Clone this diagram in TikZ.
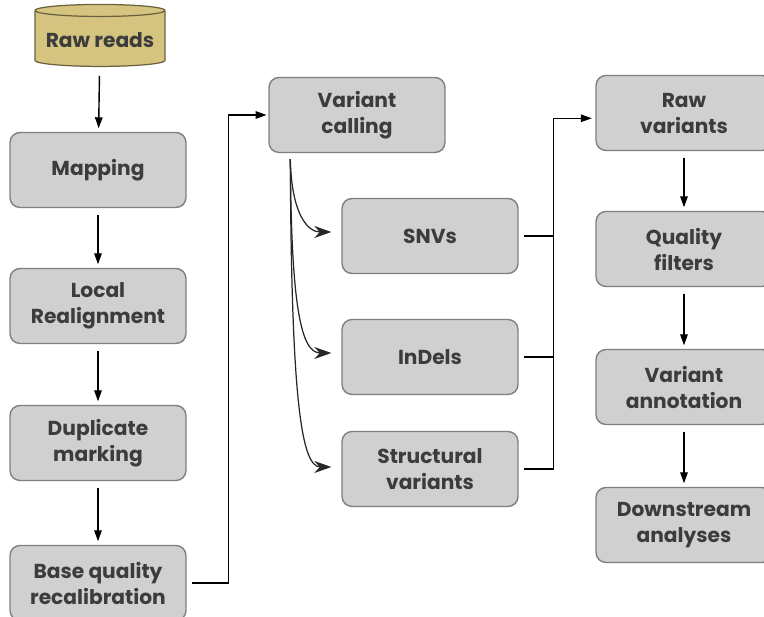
\documentclass[tikz,border=0pt]{standalone}
\usepackage{fontspec}
\setmainfont{Poppins}
\usepackage{xcolor}
\usetikzlibrary{arrows.meta,shapes.geometric}
\definecolor{boxgray}{HTML}{D0D0D0}
\definecolor{boxline}{HTML}{7F7F7F}
\definecolor{txtgray}{HTML}{3C3C3C}
\definecolor{readsfill}{HTML}{D4C47F}
\definecolor{readsline}{HTML}{6B6140}

\begin{document}
\begin{tikzpicture}[x=0.02cm, y=-0.02cm,
    box/.style={shape=rectangle, rounded corners=2mm, draw=boxline, line width=0.8pt, fill=boxgray,
        minimum width=3.52cm, minimum height=1.5cm, align=center, text=txtgray,
        font=\fontsize{11.5}{14.8}\selectfont\bfseries},
    db/.style={shape=cylinder, shape border rotate=90, aspect=0.1, draw=readsline, line width=0.7pt,
        fill=readsfill, minimum width=2.6cm, minimum height=1.24cm, text=txtgray,
        font=\fontsize{11.5}{14.8}\selectfont\bfseries},
    arr/.style={line width=0.8pt, -{Triangle[length=2.2mm, width=1.5mm]}},
    curv/.style={line width=0.7pt, draw=black!85, -{Stealth[length=3.4mm, width=2.4mm, inset=1.1mm]}}]
    \useasboundingbox (0,0) rectangle (764,617);
    \clip (0,0) rectangle (764,617);

    % first column
    \node[db] (reads) at (100, 40) {Raw reads};
    \node[box] (map) at (98, 170) {Mapping};
    \node[box] (realign) at (98, 306) {Local\\Realignment};
    \node[box] (dup) at (98, 443) {Duplicate\\marking};
    \node[box] (bqsr) at (98, 583) {Base quality\\recalibration};

    % second column
    \node[box] (call) at (357, 115) {Variant\\calling};
    \node[box] (snv) at (430, 236) {SNVs};
    \node[box] (indel) at (430, 357) {InDels};
    \node[box] (sv) at (430, 469) {Structural\\variants};

    % third column
    \node[box] (rawvar) at (684, 113) {Raw\\variants};
    \node[box] (qual) at (684, 249) {Quality\\filters};
    \node[box] (annot) at (684, 387) {Variant\\annotation};
    \node[box] (down) at (684, 525) {Downstream\\analyses};

    \draw[arr, shorten <=5pt, shorten >=2pt] (reads) -- (map);
    \draw[arr, shorten <=4pt, shorten >=2pt] (map) -- (realign);
    \draw[arr, shorten <=4pt, shorten >=2pt] (realign) -- (dup);
    \draw[arr, shorten <=4pt, shorten >=2pt] (dup) -- (bqsr);
    \draw[arr, shorten <=3pt, shorten >=1pt] (bqsr.east) -- ++(42,0) |- (call.west);

    \coordinate (callout) at ([shift={(22,6)}]call.south west);
    \draw[curv] (callout) .. controls +(1,50) and +(-26,0) .. ([shift={(-10,-4)}]snv.west);
    \draw[curv] (callout) .. controls +(1,150) and +(-30,0) .. ([shift={(-10,-4)}]indel.west);
    \draw[curv] (callout) .. controls +(1,240) and +(-30,0) .. ([shift={(-10,-2)}]sv.west);

    \draw[line width=0.8pt, shorten <=3pt] (snv.east) -- ++(35,0);
    \draw[line width=0.8pt, shorten <=3pt] (indel.east) -- ++(35,0);
    \draw[arr, shorten <=3pt, shorten >=2pt] (sv.east) -- ++(35,0) |- ([yshift=-3]rawvar.west);

    \draw[arr, shorten <=4pt, shorten >=2pt] (rawvar) -- (qual);
    \draw[arr, shorten <=4pt, shorten >=2pt] (qual) -- (annot);
    \draw[arr, shorten <=4pt, shorten >=2pt] (annot) -- (down);
\end{tikzpicture}
\end{document}
